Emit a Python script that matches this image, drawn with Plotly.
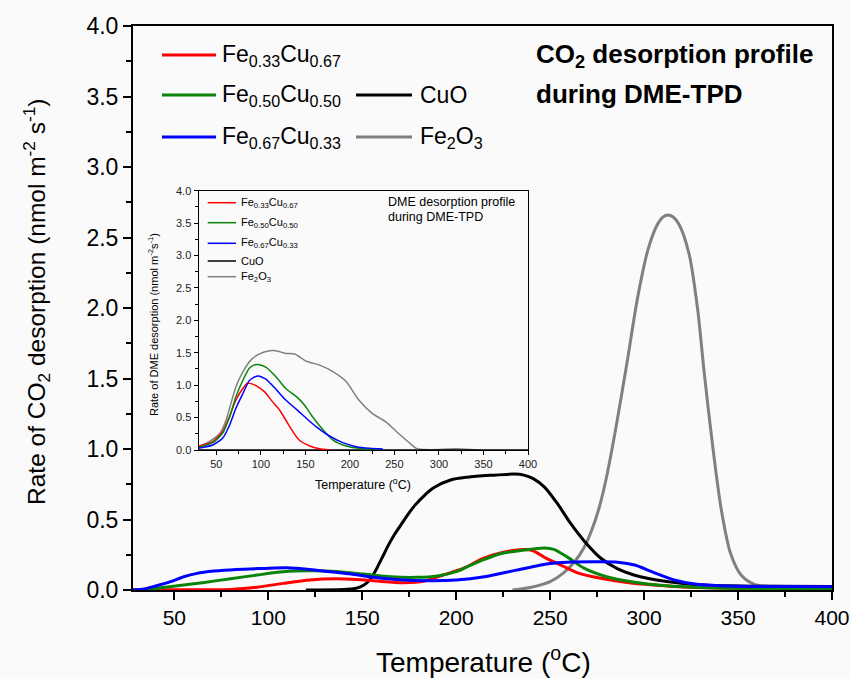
import plotly.graph_objects as go

# ---------------- Main chart data: CO2 desorption rate (nmol m-2 s-1) ----------------
t_fe33 = [28, 60, 80, 94, 108, 122, 136, 147, 158, 172, 183, 193, 204, 214, 224, 236, 241, 248, 256, 265, 277, 290, 305, 320, 340, 360, 380, 400]
v_fe33 = [0.002, 0.002, 0.004, 0.02, 0.047, 0.071, 0.08, 0.075, 0.063, 0.052, 0.063, 0.106, 0.155, 0.222, 0.264, 0.287, 0.278, 0.224, 0.175, 0.12, 0.083, 0.055, 0.035, 0.022, 0.015, 0.012, 0.01, 0.01]

t_fe50 = [28, 35, 44, 55, 65, 80, 94, 108, 122, 136, 151, 165, 179, 190, 200, 206, 215, 224, 236, 247, 252, 259, 268, 280, 295, 312, 330, 350, 375, 400]
v_fe50 = [0.0, 0.003, 0.018, 0.035, 0.052, 0.08, 0.106, 0.129, 0.136, 0.132, 0.113, 0.094, 0.09, 0.1, 0.13, 0.165, 0.217, 0.259, 0.283, 0.298, 0.288, 0.235, 0.155, 0.094, 0.055, 0.03, 0.018, 0.012, 0.01, 0.01]

t_fe67 = [28, 33, 40, 48, 55, 62, 71, 83, 97, 110, 122, 133, 144, 154, 168, 186, 200, 215, 232, 250, 259, 275, 286, 295, 305, 316, 327, 340, 360, 380, 400]
v_fe67 = [0.0, 0.005, 0.028, 0.059, 0.094, 0.118, 0.134, 0.146, 0.153, 0.158, 0.146, 0.129, 0.113, 0.094, 0.075, 0.066, 0.071, 0.094, 0.141, 0.188, 0.197, 0.2, 0.197, 0.177, 0.125, 0.071, 0.042, 0.03, 0.025, 0.024, 0.023]

t_cuo = [120, 140, 146, 149, 152, 155, 158, 161, 164, 167, 170, 174, 178, 183, 188, 197, 206, 218, 231, 236, 241, 247, 254, 261, 268, 277, 286, 298, 312, 327, 345, 370, 400]
v_cuo = [0.0, 0.004, 0.01, 0.022, 0.045, 0.09, 0.16, 0.24, 0.32, 0.39, 0.45, 0.53, 0.6, 0.67, 0.725, 0.78, 0.80, 0.813, 0.822, 0.815, 0.79, 0.73, 0.61, 0.47, 0.35, 0.225, 0.15, 0.094, 0.06, 0.038, 0.03, 0.026, 0.025]

t_fe2o3 = [230, 240, 250, 257, 263, 268, 272, 276, 280, 285, 291, 296.5, 302, 307, 310, 312.8, 315.5, 318.7, 324, 328.5, 332, 336.5, 341, 346, 351.6, 358.7, 365, 380, 400]
v_fe2o3 = [0.0, 0.02, 0.06, 0.12, 0.2, 0.3, 0.42, 0.58, 0.8, 1.15, 1.62, 2.07, 2.41, 2.59, 2.645, 2.66, 2.645, 2.59, 2.38, 1.99, 1.54, 1.02, 0.577, 0.26, 0.106, 0.04, 0.028, 0.025, 0.025]

# ---------------- Inset data: DME desorption rate ----------------
ti_fe33 = [30, 46, 57, 65, 72, 80, 85, 90, 95, 104, 113, 121, 128, 136, 143, 155, 166, 177]
vi_fe33 = [0.06, 0.128, 0.283, 0.525, 0.772, 0.952, 1.03, 1.02, 0.988, 0.9, 0.746, 0.617, 0.463, 0.283, 0.154, 0.062, 0.02, 0.0]

ti_fe50 = [30, 46, 57, 65, 72, 80, 87, 92, 97, 106, 117, 128, 140, 149, 158, 170, 181, 196, 214, 233]
vi_fe50 = [0.04, 0.113, 0.257, 0.514, 0.823, 1.08, 1.26, 1.31, 1.32, 1.276, 1.13, 0.95, 0.823, 0.694, 0.514, 0.309, 0.154, 0.062, 0.02, 0.005]

ti_fe67 = [30, 46, 57, 65, 72, 80, 87, 92, 97, 106, 117, 128, 140, 151, 162, 177, 192, 207, 222, 237]
vi_fe67 = [0.026, 0.077, 0.18, 0.386, 0.643, 0.875, 1.07, 1.12, 1.142, 1.09, 0.936, 0.77, 0.627, 0.489, 0.36, 0.216, 0.113, 0.051, 0.026, 0.015]

ti_cuo = [30, 400]
vi_cuo = [0.0, 0.0]

ti_fe2o3 = [30, 42, 54, 61, 67, 72, 80, 89, 98, 110, 117, 128, 138, 151, 166, 181, 196, 210, 225, 240, 255, 266, 274, 280, 290, 305, 319, 330, 345]
vi_fe2o3 = [0.05, 0.128, 0.257, 0.463, 0.746, 0.977, 1.21, 1.39, 1.48, 1.53, 1.53, 1.49, 1.48, 1.37, 1.31, 1.21, 1.054, 0.77, 0.566, 0.437, 0.25, 0.12, 0.03, 0.01, 0.005, 0.01, 0.02, 0.01, 0.0]

x_ticks = [50, 100, 150, 200, 250, 300, 350, 400]
y_ticks = [0.0, 0.5, 1.0, 1.5, 2.0, 2.5, 3.0, 3.5, 4.0]

names = ["Fe<sub>0.33</sub>Cu<sub>0.67</sub>", "Fe<sub>0.50</sub>Cu<sub>0.50</sub>",
         "Fe<sub>0.67</sub>Cu<sub>0.33</sub>", "CuO", "Fe<sub>2</sub>O<sub>3</sub>"]
colors = ["#ff0000", "#0a850a", "#0000ff", "#000000", "#808080"]

FONT = "Liberation Sans, Arial, sans-serif"
BG = "#fafafa"

fig = go.Figure()
main_series = [(t_fe33, v_fe33), (t_fe50, v_fe50), (t_fe67, v_fe67), (t_cuo, v_cuo), (t_fe2o3, v_fe2o3)]
inset_series = [(ti_fe33, vi_fe33), (ti_fe50, vi_fe50), (ti_fe67, vi_fe67), (ti_cuo, vi_cuo), (ti_fe2o3, vi_fe2o3)]

for i in [4, 3, 0, 1, 2]:
    t, v = main_series[i]
    fig.add_trace(go.Scatter(x=t, y=v, mode="lines", line=dict(color=colors[i], width=3, shape="spline", smoothing=0.8),
                             showlegend=False, xaxis="x", yaxis="y"))
for i in [4, 3, 0, 1, 2]:
    t, v = inset_series[i]
    fig.add_trace(go.Scatter(x=t, y=v, mode="lines", line=dict(color=colors[i], width=1.5, shape="spline", smoothing=0.6),
                             showlegend=False, xaxis="x2", yaxis="y2"))

# Plot area pixels
L, R, T, B = 133, 19, 26, 89
W, H = 851, 679
PW, PH = W - L - R, H - T - B

def px(x):
    return (x - L) / PW

def py(y):
    return (H - B - y) / PH

ix0, ix1 = px(198.5), px(528)
iy0, iy1 = py(450), py(190.7)

minor_x = [75, 125, 175, 225, 275, 325, 375]
minor_y = [0.25, 0.75, 1.25, 1.75, 2.25, 2.75, 3.25, 3.75]

fig.update_layout(
    width=W, height=H,
    margin=dict(l=L, r=R, t=T, b=B, autoexpand=False),
    paper_bgcolor=BG, plot_bgcolor=BG,
    font=dict(family=FONT, color="#000"),
    showlegend=False,
    xaxis=dict(domain=[0, 1], range=[28, 400], tickvals=x_ticks, ticktext=[str(v) for v in x_ticks], automargin=False,
               ticks="outside", ticklen=8, tickwidth=2, tickcolor="#000",
               minor=dict(ticks="outside", ticklen=5, tickwidth=2, tickcolor="#000", tickvals=minor_x),
               showline=True, linecolor="#000", linewidth=2, mirror=True, showgrid=False, zeroline=False,
               tickfont=dict(size=21, family=FONT)),
    yaxis=dict(domain=[0, 1], range=[0, 4], tickvals=y_ticks, ticktext=["%.1f" % v for v in y_ticks], automargin=False,
               ticks="outside", ticklen=8, tickwidth=2, tickcolor="#000",
               minor=dict(ticks="outside", ticklen=5, tickwidth=2, tickcolor="#000", tickvals=minor_y),
               showline=True, linecolor="#000", linewidth=2, mirror=True, showgrid=False, zeroline=False,
               tickfont=dict(size=23, family=FONT)),
    xaxis2=dict(domain=[ix0, ix1], anchor="y2", range=[30, 400], tickvals=x_ticks, ticktext=[str(v) for v in x_ticks], automargin=False,
                ticks="outside", ticklen=4, tickwidth=1, tickcolor="#000",
                minor=dict(ticks="outside", ticklen=2.5, tickwidth=1, tickcolor="#000", tickvals=minor_x),
                showline=True, linecolor="#000", linewidth=1, mirror=True, showgrid=False, zeroline=False,
                tickfont=dict(size=11, family=FONT, color="#222")),
    yaxis2=dict(domain=[iy0, iy1], anchor="x2", range=[0, 4], tickvals=y_ticks, ticktext=["%.1f" % v for v in y_ticks], automargin=False,
                ticks="outside", ticklen=4, tickwidth=1, tickcolor="#000",
                minor=dict(ticks="outside", ticklen=2.5, tickwidth=1, tickcolor="#000", tickvals=minor_y),
                showline=True, linecolor="#000", linewidth=1, mirror=True, showgrid=False, zeroline=False,
                tickfont=dict(size=11, family=FONT, color="#222")),
)

ann = []
shapes = []
ann.append(dict(text="Temperature (<sup>o</sup>C)", x=px(483), y=py(660), xref="paper", yref="paper",
                xanchor="center", yanchor="middle", showarrow=False, font=dict(size=28, family=FONT)))
ann.append(dict(text="Rate of CO<sub>2</sub> desorption (nmol m<sup>-2</sup> s<sup>-1</sup>)", x=px(36), y=py(302),
                xref="paper", yref="paper", xanchor="center", yanchor="middle", textangle=-90, showarrow=False,
                font=dict(size=24.5, family=FONT)))

leg_main = [(0, 162, 216, 220, 55), (1, 162, 216, 220, 95), (2, 162, 216, 220, 137),
            (3, 356, 412, 418, 95), (4, 356, 412, 418, 137)]
for i, xa, xb, xt, yy in leg_main:
    shapes.append(dict(type="line", xref="paper", yref="paper", x0=px(xa), x1=px(xb), y0=py(yy), y1=py(yy),
                       line=dict(color=colors[i], width=3)))
    ann.append(dict(text=names[i], x=px(xt), y=py(yy), xref="paper", yref="paper", xanchor="left", yanchor="middle",
                    showarrow=False, font=dict(size=23, family=FONT)))

ann.append(dict(text="<b>CO<sub>2</sub> desorption profile</b>", x=px(534), y=py(55), xref="paper", yref="paper",
                xanchor="left", yanchor="middle", showarrow=False, font=dict(size=26, family=FONT)))
ann.append(dict(text="<b>during DME-TPD</b>", x=px(534), y=py(94), xref="paper", yref="paper",
                xanchor="left", yanchor="middle", showarrow=False, font=dict(size=26, family=FONT)))

leg_in = [(0, 202.7), (1, 222.7), (2, 243.3), (3, 261), (4, 276.7)]
for i, yy in leg_in:
    shapes.append(dict(type="line", xref="paper", yref="paper", x0=px(207.7), x1=px(236), y0=py(yy), y1=py(yy),
                       line=dict(color=colors[i], width=1.5)))
    ann.append(dict(text=names[i], x=px(239), y=py(yy), xref="paper", yref="paper", xanchor="left", yanchor="middle",
                    showarrow=False, font=dict(size=11, family=FONT)))

ann.append(dict(text="DME desorption profile", x=px(386), y=py(201.7), xref="paper", yref="paper",
                xanchor="left", yanchor="middle", showarrow=False, font=dict(size=12.5, family=FONT)))
ann.append(dict(text="during DME-TPD", x=px(386), y=py(217.3), xref="paper", yref="paper",
                xanchor="left", yanchor="middle", showarrow=False, font=dict(size=12.5, family=FONT)))

ann.append(dict(text="Temperature (<sup>o</sup>C)", x=px(363), y=py(484), xref="paper", yref="paper",
                xanchor="center", yanchor="middle", showarrow=False, font=dict(size=12.5, family=FONT)))
ann.append(dict(text="Rate of DME desorption (nmol m<sup>-2</sup>s<sup>-1</sup>)", x=px(153), y=py(325), xref="paper", yref="paper",
                xanchor="center", yanchor="middle", textangle=-90, showarrow=False, font=dict(size=11, family=FONT)))

fig.update_layout(annotations=ann, shapes=shapes)
fig.write_html("out.html")
